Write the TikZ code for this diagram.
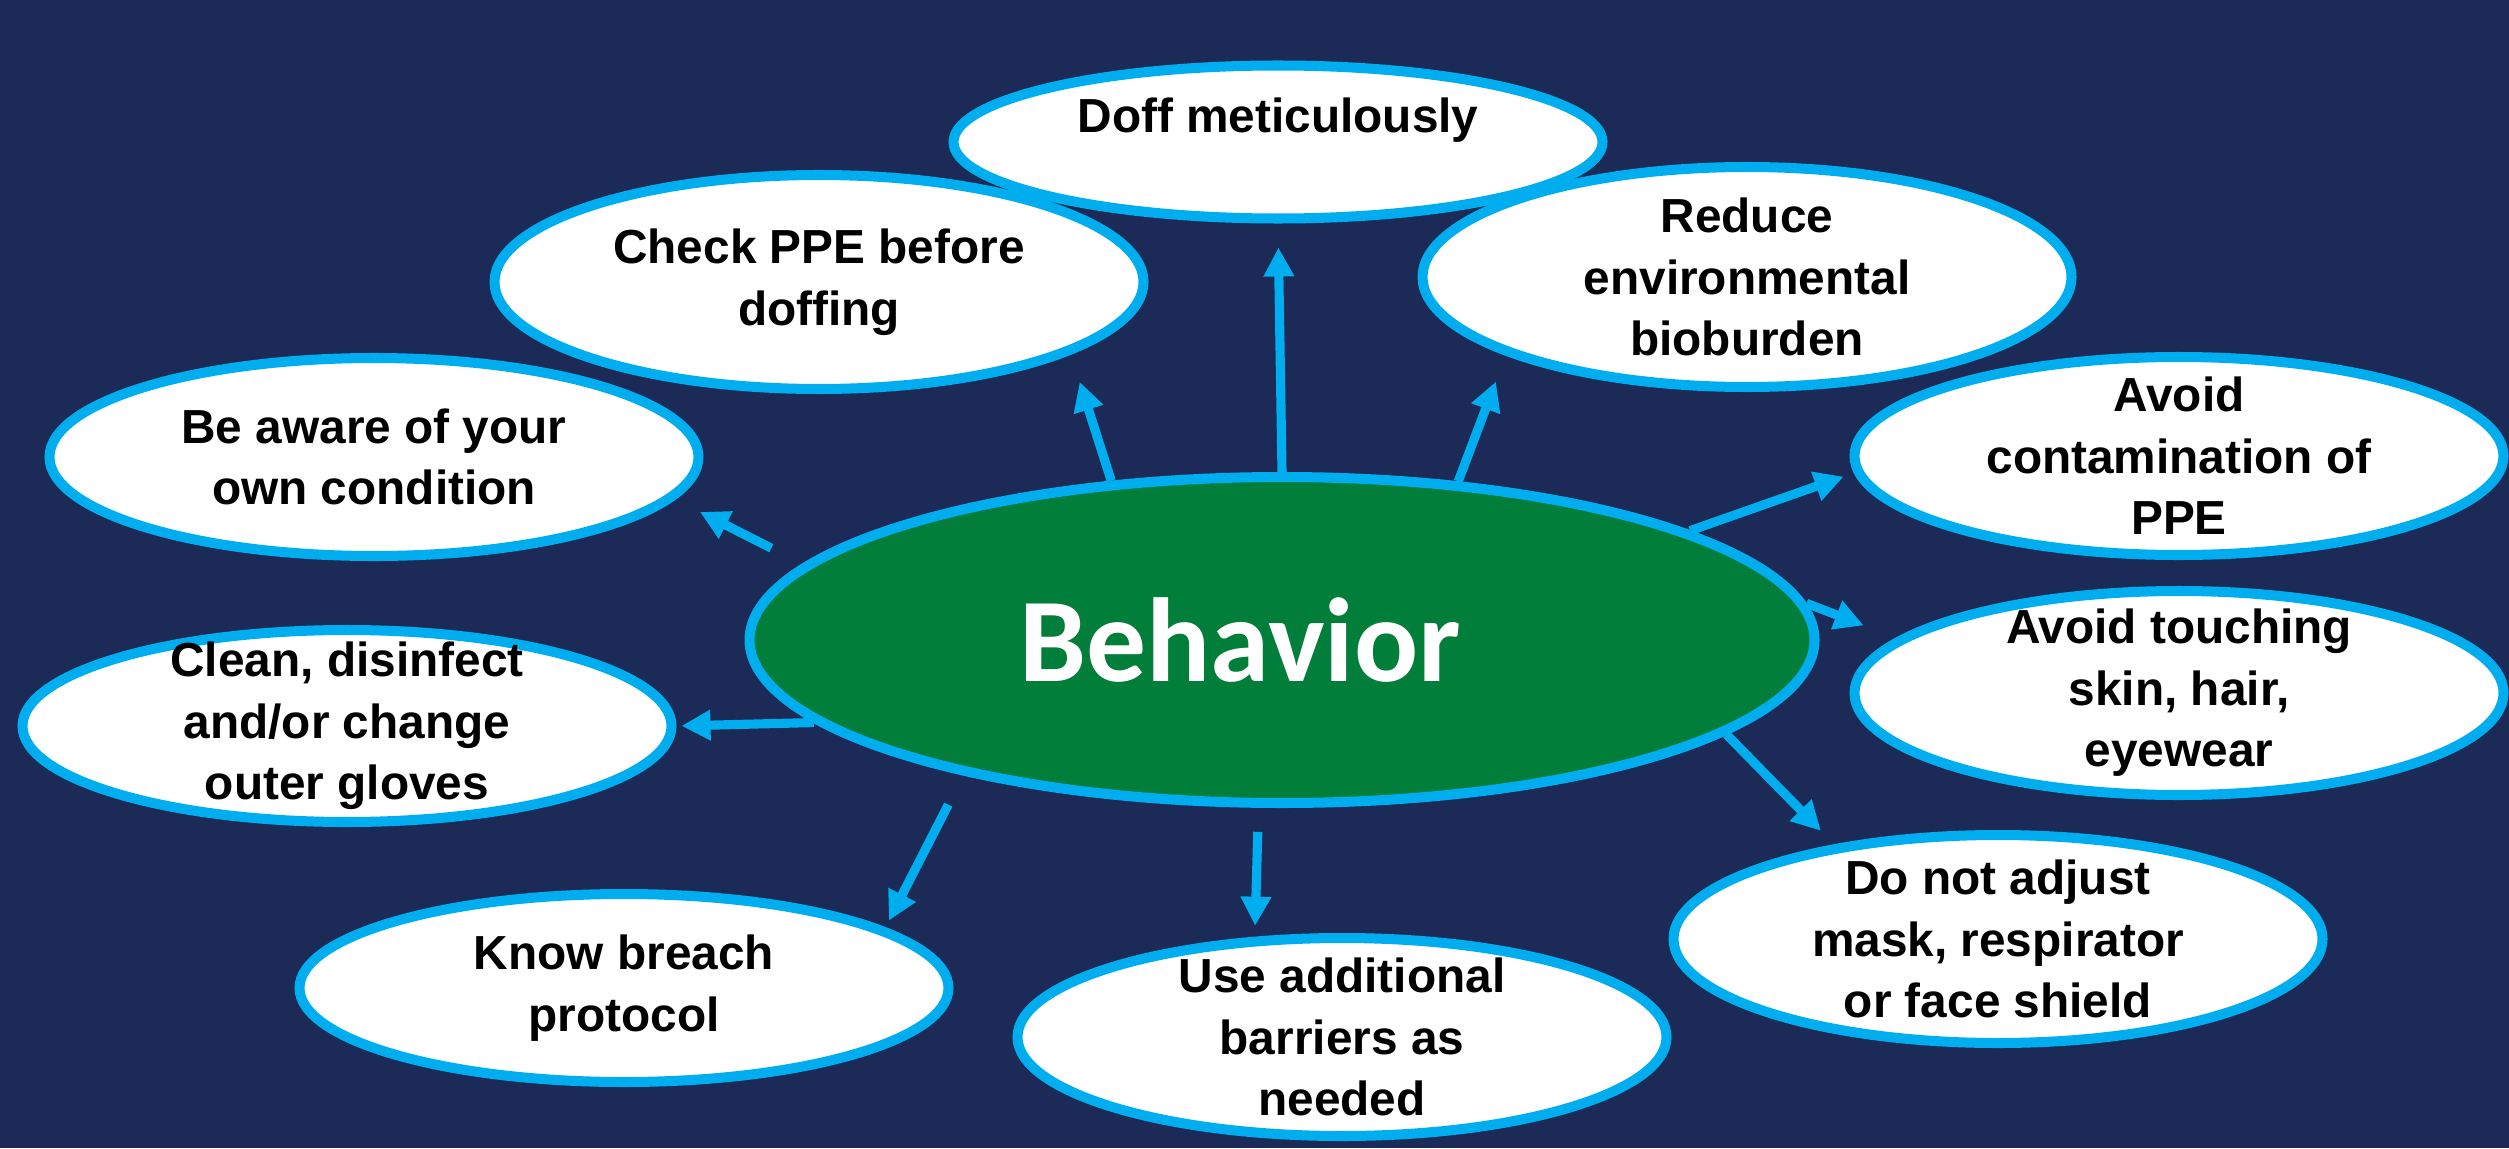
\documentclass[tikz,border=0pt]{standalone}
\usepackage{fontspec}
\setmainfont{Liberation Sans}
\newfontfamily\hubfont{Carlito}
\usetikzlibrary{arrows.meta,shapes.geometric}

\definecolor{navy}{HTML}{1B2A56}
\definecolor{ringblue}{HTML}{00AEEF}
\definecolor{leafgreen}{HTML}{007E3A}

\begin{document}
\begin{tikzpicture}[
  hub/.style={ellipse,draw=ringblue,fill=leafgreen,line width=2.85pt,inner sep=0pt,
    minimum width=10.65cm,minimum height=3.26cm,text=white,font=\hubfont\bfseries\fontsize{34}{40}\selectfont},
  bubble/.style={ellipse,draw=ringblue,fill=white,line width=2.85pt,inner xsep=0pt,inner ysep=-0.2cm,
    minimum width=6.49cm,align=center,font=\bfseries\fontsize{13.6}{17.5}\selectfont},
  flow/.style={-{Triangle[length=0.29cm,width=0.29cm]},draw=ringblue,line width=2.6pt}
]
\fill[navy] (0,0) rectangle (25.09,11.48);
\useasboundingbox (0,0) rectangle (25.09,11.48);

\node[hub] (behav) at (12.82,5.08) {\makebox[\width][l]{\hspace*{-0.84cm}Behavior}};

\node[bubble,minimum height=1.53cm] (doff) at (12.78,10.06) {\raisebox{0.22cm}[\height][\depth]{Doff meticulously}};
\node[bubble,minimum height=2.14cm] (check) at (8.19,8.66) {Check PPE before\\doffing};
\node[bubble,minimum height=2.2cm] (reduce) at (17.47,8.71) {Reduce\\environmental\\bioburden};
\node[bubble,minimum height=1.98cm] (aware) at (3.74,6.91) {Be aware of your\\own condition};
\node[bubble,minimum height=1.98cm] (avoidc) at (21.79,6.92) {Avoid\\contamination of\\PPE};
\node[bubble,minimum height=1.92cm] (clean) at (3.47,4.22) {Clean, disinfect\\and/or change\\outer gloves};
\node[bubble,minimum height=2.04cm] (avoidt) at (21.79,4.55) {Avoid touching\\skin, hair,\\eyewear};
\node[bubble,minimum height=1.88cm] (breach) at (6.24,1.60) {Know breach\\protocol};
\node[bubble,minimum height=1.98cm] (barrier) at (13.42,1.11) {Use additional\\barriers as\\needed};
\node[bubble,minimum height=2.08cm] (adjust) at (19.98,2.09) {Do not adjust\\mask, respirator\\or face shield};

% spokes from the hub
\draw[flow,shorten >=0.24cm] (behav.90) -- (doff.270);
\draw[flow,shorten >=0.29cm] (behav.137) -- (check.-16);
\draw[flow,shorten >=0.28cm] (behav.42) -- (reduce.-162);
\draw[flow,shorten <=0.35cm,shorten >=0.28cm] (behav.171) -- (aware.-8);
\draw[flow,shorten >=0.11cm] (behav.15) -- (avoidc.-177);
\draw[flow,shorten >=0.35cm] (behav.4) -- (avoidt.169);
\draw[flow,shorten >=0.05cm] (behav.190) -- (clean.0);
\draw[flow,shorten <=0.33cm,shorten >=0.08cm] (behav.203) -- (breach.13);
\draw[flow,shorten <=0.24cm,shorten >=0.11cm] (behav.262) -- (barrier.131);
\draw[flow,shorten >=0.19cm] (behav.-12) -- (adjust.150);
\end{tikzpicture}
\end{document}
